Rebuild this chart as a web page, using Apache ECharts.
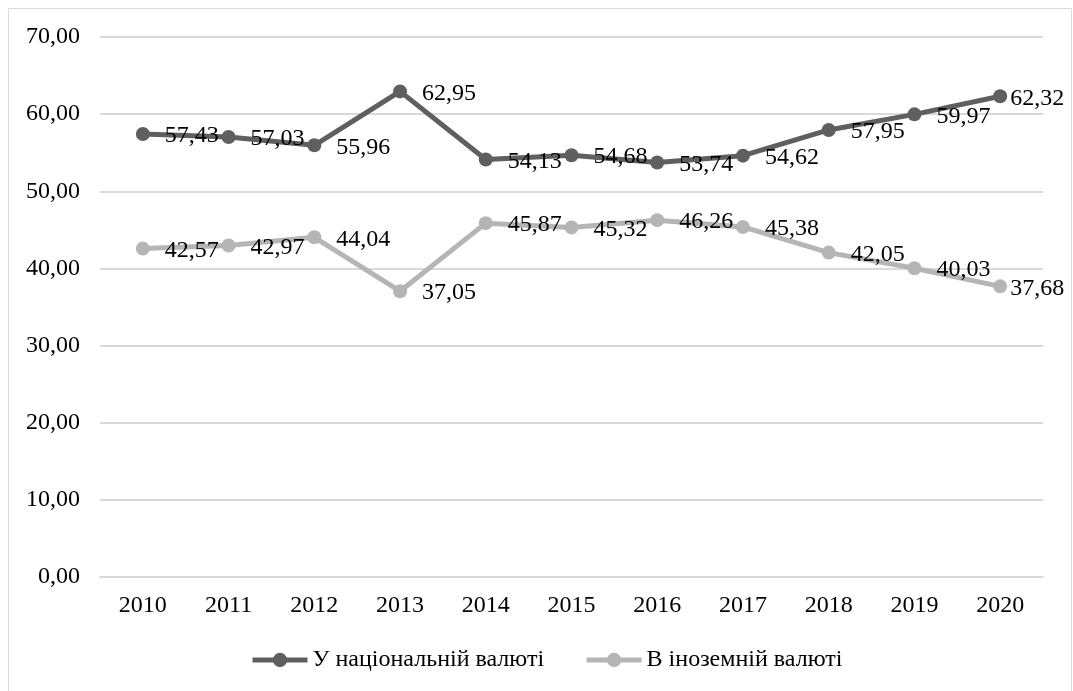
<!DOCTYPE html>
<html>
<head>
<meta charset="utf-8">
<script src="https://cdn.jsdelivr.net/npm/echarts@6/dist/echarts.min.js"></script>
<style>
  html, body { margin: 0; padding: 0; background: #ffffff; }
  #chart { width: 1073px; height: 691px; }
</style>
</head>
<body>
<div id="chart"></div>
<script>
// Years on the category axis
const years = ['2010', '2011', '2012', '2013', '2014', '2015', '2016', '2017', '2018', '2019', '2020'];
// Share in national currency, %
const nationalCurrency = [57.43, 57.03, 55.96, 62.95, 54.13, 54.68, 53.74, 54.62, 57.95, 59.97, 62.32];
// Share in foreign currency, %
const foreignCurrency = [42.57, 42.97, 44.04, 37.05, 45.87, 45.32, 46.26, 45.38, 42.05, 40.03, 37.68];
const seriesNames = ['У національній валюті', 'В іноземній валюті'];

const fmt = v => v.toFixed(2).replace('.', ',');
const font = '"Liberation Serif", "Times New Roman", serif';
const fontSize = 24;

const chart = echarts.init(document.getElementById('chart'));

function lineSeries(name, data, color) {
  return {
    name: name,
    type: 'line',
    // the last point's label sits closer so it stays inside the frame
    data: data.map((v, i) => i === data.length - 1
      ? { value: v, label: { distance: 3 } }
      : v),
    symbol: 'circle',
    symbolSize: 14,
    lineStyle: { width: 5, color: color },
    itemStyle: { color: color },
    label: {
      show: true,
      position: 'right',
      distance: 15,
      offset: [0, 2],
      fontFamily: font,
      fontSize: fontSize,
      color: '#000000',
      formatter: p => fmt(p.value)
    },
    animation: false
  };
}

chart.setOption({
  backgroundColor: '#ffffff',
  graphic: [{
    type: 'rect',
    shape: { x: 8.5, y: 8.5, width: 1063, height: 700 },
    style: { fill: 'none', stroke: '#d9d9d9', lineWidth: 1 },
    silent: true
  }],
  grid: { left: 100, right: 30, top: 37, bottom: 114, containLabel: false },
  xAxis: {
    type: 'category',
    data: years,
    boundaryGap: true,
    axisLine: { show: true, lineStyle: { color: '#d9d9d9', width: 2 } },
    axisTick: { show: false },
    axisLabel: { fontFamily: font, fontSize: fontSize, color: '#000000', margin: 17 }
  },
  yAxis: {
    type: 'value',
    min: 0,
    max: 70,
    interval: 10,
    axisLine: { show: false },
    axisTick: { show: false },
    splitLine: { lineStyle: { color: '#d9d9d9', width: 2 } },
    axisLabel: { fontFamily: font, fontSize: fontSize, color: '#000000', margin: 20, formatter: v => fmt(v) }
  },
  legend: {
    bottom: 14,
    left: 245,
    itemWidth: 55,
    itemHeight: 18,
    itemGap: 40,
    lineStyle: { width: 5 },
    textStyle: { fontFamily: font, fontSize: fontSize, color: '#000000' },
    data: seriesNames
  },
  series: [
    lineSeries(seriesNames[0], nationalCurrency, '#5f5f5f'),
    lineSeries(seriesNames[1], foreignCurrency, '#b5b5b5')
  ]
});
</script>
</body>
</html>
